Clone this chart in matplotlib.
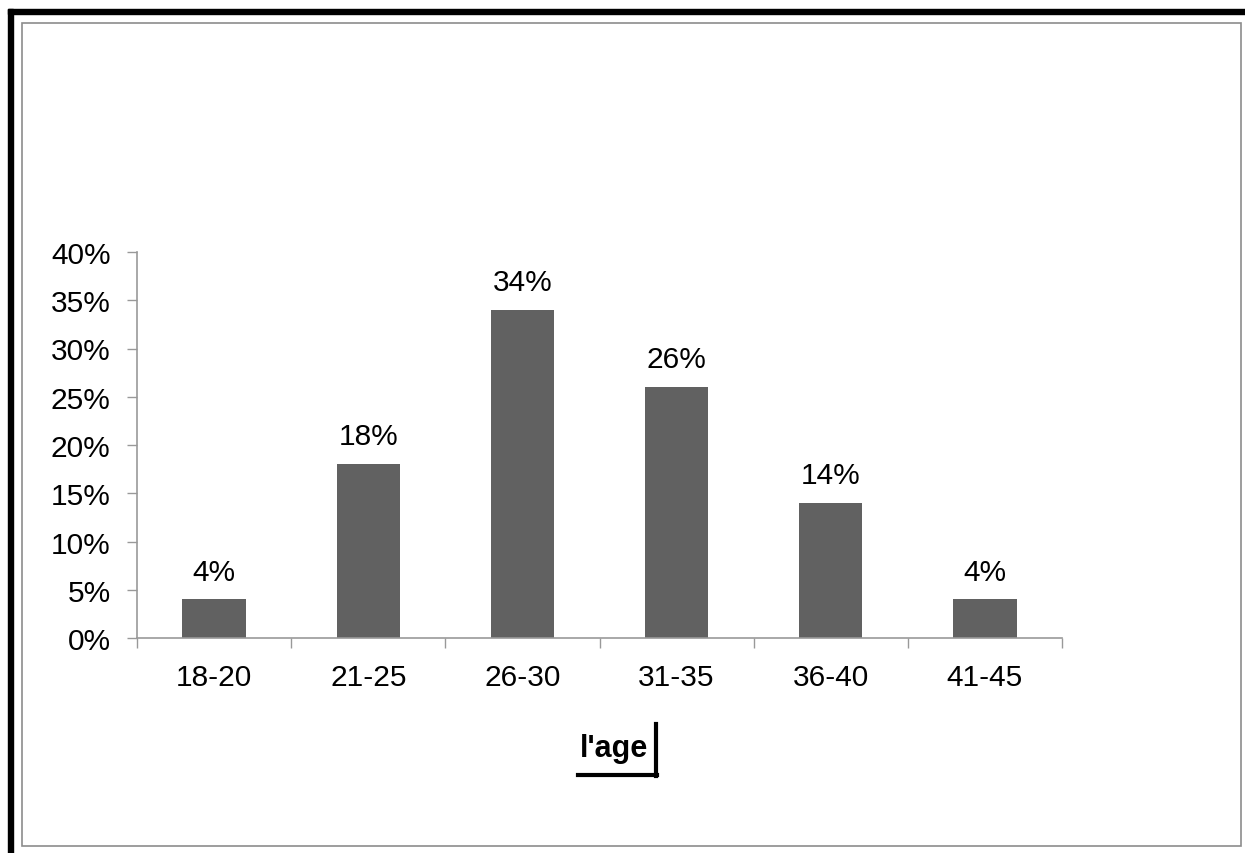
import matplotlib.pyplot as plt
from matplotlib.lines import Line2D
from matplotlib.patches import Rectangle
from matplotlib.ticker import PercentFormatter

plt.rcParams['font.family'] = ['Liberation Sans', 'DejaVu Sans']

ages = ["18-20", "21-25", "26-30", "31-35", "36-40", "41-45"]
shares = [4, 18, 34, 26, 14, 4]
yticks = [0, 5, 10, 15, 20, 25, 30, 35, 40]

W, H = 1245, 854
fig = plt.figure(figsize=(W / 100, H / 100), dpi=100)

def fx(px):
    return px / W

def fy(py):
    return 1 - py / H

# frame: thick black on top and left, thin gray inner rectangle
fig.patches.append(Rectangle((fx(8), fy(15)), fx(W - 8), 5 / H, transform=fig.transFigure,
                             color="black", zorder=0))
fig.patches.append(Rectangle((fx(8), 0), 5 / W, fy(10), transform=fig.transFigure,
                             color="black", zorder=0))
fig.patches.append(Rectangle((fx(22), fy(847)), fx(1241 - 22), (847 - 24) / H,
                             transform=fig.transFigure, fill=False, edgecolor="#8c8c8c",
                             linewidth=1.2, zorder=0))

ax = fig.add_axes([fx(137), fy(639), fx(1062 - 137), (639 - 253) / H])
x = range(len(ages))
bars = ax.bar(x, shares, width=0.41, color="#616161", zorder=2)
for b, v in zip(bars, shares):
    ax.annotate(f"{v}%", (b.get_x() + b.get_width() / 2, v), xytext=(0, 10),
                textcoords="offset points", ha="center", va="bottom", fontsize=21.5)

ax.set_xlim(-0.5, len(ages) - 0.5)
ax.set_ylim(0, 40)
ax.set_yticks(yticks)
ax.yaxis.set_major_formatter(PercentFormatter(decimals=0))
ax.set_xticks([i - 0.5 for i in range(len(ages) + 1)], minor=False)
ax.set_xticklabels([""] * (len(ages) + 1))
ax.set_xticks(list(x), minor=True)
ax.set_xticklabels(ages, minor=True)
ax.tick_params(axis="x", which="minor", length=0, pad=18, labelsize=21.5)
ax.tick_params(axis="x", which="major", length=7, width=1, color="#999999")
ax.tick_params(axis="y", length=7, width=1, color="#999999", pad=12, labelsize=21.5)
for s in ["top", "right"]:
    ax.spines[s].set_visible(False)
for s in ["left", "bottom"]:
    ax.spines[s].set_color("#999999")
    ax.spines[s].set_linewidth(1.2)

# axis title with its little shadow corner
fig.text(fx(614), fy(757), "l'age", ha="center", va="baseline", fontsize=22,
         fontweight="bold")
fig.lines.append(Line2D([fx(578), fx(657)], [fy(776), fy(776)], transform=fig.transFigure,
                        color="black", linewidth=3))
fig.lines.append(Line2D([fx(655.5), fx(655.5)], [fy(725), fy(777)], transform=fig.transFigure,
                        color="black", linewidth=3))

fig.savefig("out.png", dpi=100)
